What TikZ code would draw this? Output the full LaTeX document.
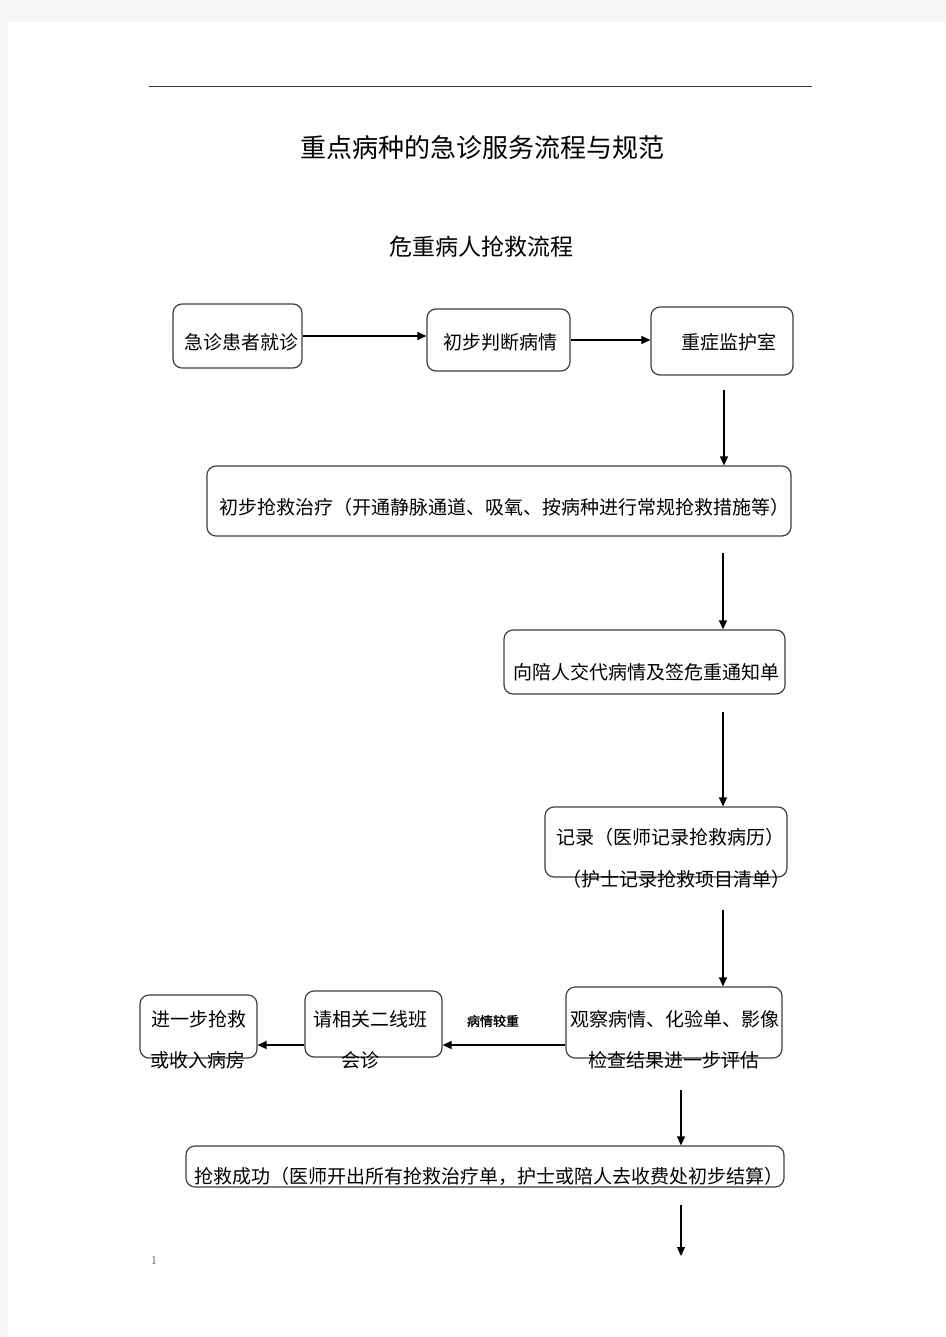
\documentclass[tikz,border=0pt]{standalone}
\usepackage{fontspec}
\usepackage{tikz}
\usetikzlibrary{arrows.meta}
\newfontfamily\hei{Noto Sans CJK SC}
\newfontfamily\heib[FakeBold=1.5]{Noto Sans CJK SC}

\begin{document}
\begin{tikzpicture}[x=1pt,y=-1pt,
  box/.style={draw=black!75,line width=1.2pt,rounded corners=9pt,inner sep=0pt},
  txt/.style={inner sep=0pt,font=\hei\fontsize{19}{19}\selectfont},
  arr/.style={line width=1.3pt,-{Triangle[length=9pt,width=8pt]}}]
%\draw[help lines] (0,0) grid (945,1337);
\useasboundingbox (0,0) rectangle (945,1337);
\fill[black!4] (0,0) rectangle (945,1337);
\fill[white] (8,22) rectangle (945,1337);
\draw[line width=1pt,black!80] (149,87) -- (812,87);

\node[inner sep=0pt,font=\hei\fontsize{26}{26}\selectfont] (title) at (482,148) {重点病种的急诊服务流程与规范};
\node[inner sep=0pt,font=\hei\fontsize{23}{23}\selectfont] (subtitle) at (481,247) {危重病人抢救流程};

% boxes
\node[box,minimum width=129pt,minimum height=64pt] (b1) at (237.5,336) {};
\node[box,minimum width=143pt,minimum height=62pt] (b2) at (498.5,340) {};
\node[box,minimum width=142pt,minimum height=68pt] (b3) at (722,341) {};
\node[box,minimum width=584pt,minimum height=70pt] (b4) at (499,501) {};
\node[box,minimum width=281pt,minimum height=64pt] (b5) at (644.5,662) {};
\node[box,minimum width=242pt,minimum height=70pt] (b6) at (666,842) {};
\node[box,minimum width=216pt,minimum height=71pt] (b7) at (674,1022.5) {};
\node[box,minimum width=137pt,minimum height=66pt] (b8) at (373.5,1024) {};
\node[box,minimum width=117pt,minimum height=63pt] (b9) at (198.5,1026.5) {};
\node[box,minimum width=598pt,minimum height=41pt] (b10) at (485,1166.5) {};

% texts
\node[txt] (t1) at (241.5,342) {急诊患者就诊};
\node[txt] (t2) at (500,342) {初步判断病情};
\node[txt] (t3) at (728.5,342) {重症监护室};
\node[txt] (t4) at (504,507) {初步抢救治疗（开通静脉通道、吸氧、按病种进行常规抢救措施等）};
\node[txt] (t5) at (646,672) {向陪人交代病情及签危重通知单};
\node[txt] (t6a) at (670.5,837) {记录（医师记录抢救病历）};
\node[txt] (t6b) at (676.5,879) {（护士记录抢救项目清单）};
\node[txt] (t7a) at (674.5,1019) {观察病情、化验单、影像};
\node[txt] (t7b) at (674,1060) {检查结果进一步评估};
\node[txt] (t8a) at (370,1019) {请相关二线班};
\node[txt] (t8b) at (360.5,1060) {会诊};
\node[txt] (t9a) at (198.5,1019) {进一步抢救};
\node[txt] (t9b) at (198,1060) {或收入病房};
\node[txt] (t10) at (488.5,1176) {抢救成功（医师开出所有抢救治疗单，护士或陪人去收费处初步结算）};
\node[inner sep=0pt,font=\heib\fontsize{13}{13}\selectfont] (lbl) at (493,1021) {病情较重};
\node[inner sep=0pt,font=\fontsize{12}{12}\selectfont,text=black!70] (pg) at (154,1260) {1};

% connectors
\coordinate (c3) at (724,390);
\coordinate (c4) at (723,553);
\coordinate (c5) at (723,712);
\coordinate (c6) at (723,910);
\coordinate (c7) at ([yshift=-22.5pt]b7.west);
\coordinate (c8) at ([yshift=-21pt]b8.west);
\coordinate (c9) at (681,1090);
\coordinate (c10) at (681,1205);
\coordinate (e10) at (681,1256);

\draw[arr] (b1.east) -- (b1.east -| b2.west);
\draw[arr] (b2.east) -- (b2.east -| b3.west);
\draw[arr] (c3) -- (c3 |- b4.north);
\draw[arr] (c4) -- (c4 |- b5.north);
\draw[arr] (c5) -- (c5 |- b6.north);
\draw[arr] (c6) -- (c6 |- b7.north);
\draw[arr] (c7) -- (c7 -| b8.east);
\draw[arr] (c8) -- (c8 -| b9.east);
\draw[arr] (c9) -- (c9 |- b10.north);
\draw[arr] (c10) -- (e10);
\end{tikzpicture}
\end{document}
